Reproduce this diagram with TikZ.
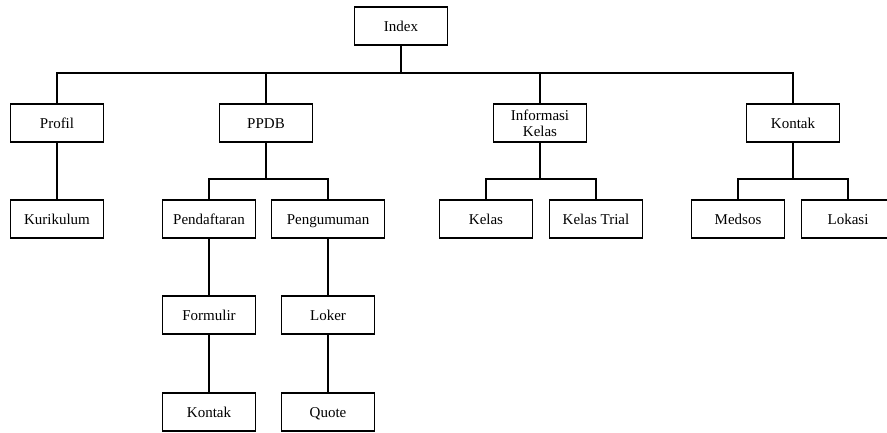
\documentclass[tikz,border=0pt]{standalone}
\usepackage{fontspec}
\setmainfont{Liberation Serif}
\usepackage{tikz}

\tikzset{
  kotak/.style={draw, line width=1.3pt, minimum width=93pt, minimum height=38pt, inner sep=1pt, align=center, text height=12pt, text depth=2pt, font=\fontsize{15}{16}\selectfont},
  garis/.style={line width=1.2pt}
}

\begin{document}
\begin{tikzpicture}[x=1pt, y=-1pt]
\useasboundingbox (0,0) rectangle (887,432);
\clip (0,0) rectangle (887,432);
%Boxes
\node [kotak] (index) at (401,26) {Index};
\node [kotak] (profil) at (57,123) {Profil};
\node [kotak] (ppdb) at (266,123) {PPDB};
\node [kotak, text height=, text depth=] (infokelas) at (540,123) {Informasi\\Kelas};
\node [kotak] (kontak) at (793,123) {Kontak};
\node [kotak] (kurikulum) at (57,219) {Kurikulum};
\node [kotak] (pendaftaran) at (209,219) {Pendaftaran};
\node [kotak, minimum width=113pt] (pengumuman) at (328,219) {Pengumuman};
\node [kotak] (kelas) at (486,219) {Kelas};
\node [kotak] (kelastrial) at (596,219) {Kelas Trial};
\node [kotak] (medsos) at (738,219) {Medsos};
\node [kotak] (lokasi) at (848,219) {Lokasi};
\node [kotak] (formulir) at (209,315) {Formulir};
\node [kotak] (loker) at (328,315) {Loker};
\node [kotak] (kontakdua) at (209,412) {Kontak};
\node [kotak] (quote) at (328,412) {Quote};
%Lines
\coordinate (busindex) at (401,73);
\coordinate (busppdb) at (266,179);
\coordinate (businfo) at (540,179);
\coordinate (buskontak) at (793,179);
\draw [garis] (index) -- (busindex);
\draw [garis] (profil.north) |- (busindex) -| (kontak.north);
\draw [garis] (ppdb.north) -- (ppdb.north |- busindex);
\draw [garis] (infokelas.north) -- (infokelas.north |- busindex);
\draw [garis] (profil) -- (kurikulum);
\draw [garis] (ppdb) -- (busppdb);
\draw [garis] (pendaftaran.north) |- (busppdb) -| (pengumuman.north);
\draw [garis] (infokelas) -- (businfo);
\draw [garis] (kelas.north) |- (businfo) -| (kelastrial.north);
\draw [garis] (kontak) -- (buskontak);
\draw [garis] (medsos.north) |- (buskontak) -| (lokasi.north);
\draw [garis] (pendaftaran) -- (formulir);
\draw [garis] (formulir) -- (kontakdua);
\draw [garis] (pengumuman) -- (loker);
\draw [garis] (loker) -- (quote);
\end{tikzpicture}
\end{document}
